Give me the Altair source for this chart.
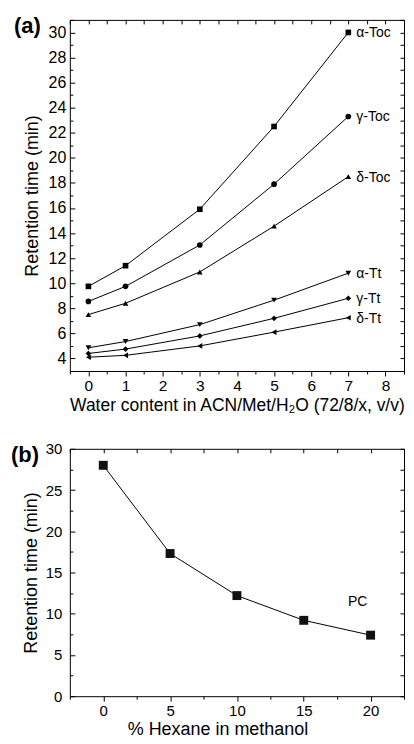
import altair as alt
import pandas as pd

FONT = "Liberation Sans"

# ---------------- Panel (a) data ----------------
water = [0, 1, 3, 5, 7]
series_names = ["α-Toc", "γ-Toc", "δ-Toc", "α-Tt", "γ-Tt", "δ-Tt"]
alpha_toc = [9.75, 11.4, 15.9, 22.5, 30.0]
gamma_toc = [8.55, 9.75, 13.05, 17.9, 23.3]
delta_toc = [7.5, 8.4, 10.9, 14.55, 18.5]
alpha_tt = [4.85, 5.35, 6.7, 8.65, 10.8]
gamma_tt = [4.4, 4.75, 5.8, 7.2, 8.8]
delta_tt = [4.1, 4.25, 5.0, 6.1, 7.25]
series_values = [alpha_toc, gamma_toc, delta_toc, alpha_tt, gamma_tt, delta_tt]
shapes = ["square", "circle", "triangle-up", "triangle-down", "diamond", "triangle-left"]

# ---------------- Panel (b) data ----------------
hexane = [0, 5, 10, 15, 20]
pc_time = [28.0, 17.3, 12.2, 9.2, 7.4]
pc_name = ["PC"]

panel_labels = ["(a)", "(b)"]

rows = []
for n, vals in zip(series_names, series_values):
    for x, v in zip(water, vals):
        rows.append({"x": x, "y": v, "s": n})
df_a = pd.DataFrame(rows)
last_a = df_a[df_a["x"] == water[-1]]

df_b = pd.DataFrame({"x": hexane, "y": pc_time, "s": pc_name * len(hexane)})
last_b = df_b[df_b["x"] == hexane[-1]]

WA, HA = 335, 352
WB, HB = 335, 248


def tick_axis(**kw):
    base = dict(labels=False, domain=False, grid=False, ticks=True,
                tickColor="black", tickWidth=1)
    base.update(kw)
    return alt.Axis(**base)


def ghost(df, xs, ys, xaxis, yaxis):
    if xaxis is not None:
        ex = alt.X("x:Q", scale=xs, axis=xaxis, title=None)
    else:
        ex = alt.X("x:Q", scale=xs, axis=None)
    if yaxis is not None:
        ey = alt.Y("y:Q", scale=ys, axis=yaxis, title=None)
    else:
        ey = alt.Y("y:Q", scale=ys, axis=None)
    return alt.Chart(df).mark_point(opacity=0, size=1).encode(x=ex, y=ey)


def frange(a, b, step):
    out = []
    v = a
    while v <= b + 1e-9:
        out.append(round(v, 4))
        v += step
    return out


# ---------------- Panel (a) ----------------
xa = alt.Scale(domain=[-0.5, 8.5], nice=False, zero=False)
ya = alt.Scale(domain=[3, 31], nice=False, zero=False)

xa_axis = alt.Axis(orient="bottom", values=list(range(0, 9)), format="d",
                   tickSize=5, labelFontSize=15.5, titleFontSize=17.5,
                   labelPadding=3, titlePadding=2, domain=False, grid=False,
                   titleFontWeight="normal", labelFont=FONT, titleFont=FONT,
                   labelColor="black", titleColor="black", tickColor="black")
ya_axis = alt.Axis(orient="left", values=list(range(4, 31, 2)), format="d",
                   ticks=False, labelFontSize=16, titleFontSize=18,
                   labelPadding=4, titlePadding=7, domain=False, grid=False,
                   titleFontWeight="normal", labelFont=FONT, titleFont=FONT,
                   labelColor="black", titleColor="black")

base_a = alt.Chart(df_a)
lines_a = base_a.mark_line(color="black", strokeWidth=1).encode(
    x=alt.X("x:Q", scale=xa, axis=xa_axis, title="Water content in ACN/Met/H₂O (72/8/x, v/v)"),
    y=alt.Y("y:Q", scale=ya, axis=ya_axis, title="Retention time (min)"),
    detail="s:N",
)
points_a = base_a.mark_point(filled=True, color="black", opacity=1, size=32).encode(
    x=alt.X("x:Q", scale=xa, axis=None),
    y=alt.Y("y:Q", scale=ya, axis=None),
    shape=alt.Shape("s:N", scale=alt.Scale(domain=series_names, range=shapes), legend=None),
)
labels_a = alt.Chart(last_a).mark_text(align="left", baseline="middle", dx=8, dy=1, fontSize=14,
                                       font=FONT, color="black").encode(
    x=alt.X("x:Q", scale=xa, axis=None),
    y=alt.Y("y:Q", scale=ya, axis=None),
    text="s:N",
)
tag_a = alt.Chart(pd.DataFrame({"t": [panel_labels[0]]})).mark_text(
    align="left", baseline="top", fontSize=22, fontWeight="bold", font=FONT, color="black"
).encode(x=alt.value(-56), y=alt.value(-4), text="t:N")

g1a = ghost(df_a, xa, ya,
            tick_axis(orient="bottom", values=frange(-0.5, 8.5, 1.0), tickSize=3),
            tick_axis(orient="right", offset=-WA, values=list(range(4, 31, 2)), tickSize=5))
g2a = ghost(df_a, xa, ya,
            tick_axis(orient="bottom", offset=-HA, values=frange(-0.5, 8.5, 0.5), tickSize=4),
            tick_axis(orient="left", offset=-WA, values=list(range(3, 32, 1)), tickSize=4))
g3a = ghost(df_a, xa, ya, None,
            tick_axis(orient="right", offset=-WA, values=list(range(3, 32, 2)), tickSize=3))

panel_a = alt.layer(lines_a, g1a, g2a, g3a, points_a, labels_a, tag_a).resolve_axis(
    x="independent", y="independent").properties(width=WA, height=HA)

# ---------------- Panel (b) ----------------
xb = alt.Scale(domain=[-2.5, 22.5], nice=False, zero=False)
yb = alt.Scale(domain=[0, 30], nice=False, zero=False)

xb_axis = alt.Axis(orient="bottom", values=[0, 5, 10, 15, 20], format="d",
                   tickSize=5, labelFontSize=15, titleFontSize=18,
                   labelPadding=2, titlePadding=2, domain=False, grid=False,
                   titleFontWeight="normal", titleX=148, labelFont=FONT, titleFont=FONT,
                   labelColor="black", titleColor="black", tickColor="black")
yb_axis = alt.Axis(orient="left", values=[0, 5, 10, 15, 20, 25, 30], format="d",
                   ticks=False, labelFontSize=15, titleFontSize=18,
                   labelPadding=8, titlePadding=5, domain=False, grid=False,
                   titleFontWeight="normal", labelFont=FONT, titleFont=FONT,
                   labelColor="black", titleColor="black")

base_b = alt.Chart(df_b)
lines_b = base_b.mark_line(color="black", strokeWidth=1).encode(
    x=alt.X("x:Q", scale=xb, axis=xb_axis, title="% Hexane in methanol"),
    y=alt.Y("y:Q", scale=yb, axis=yb_axis, title="Retention time (min)"),
)
points_b = base_b.mark_point(filled=True, shape="square", color="#111111", opacity=1, size=80).encode(
    x=alt.X("x:Q", scale=xb, axis=None),
    y=alt.Y("y:Q", scale=yb, axis=None),
)
labels_b = alt.Chart(last_b).mark_text(align="center", baseline="middle", dx=-13, dy=-33,
                                       fontSize=14, font=FONT, color="black").encode(
    x=alt.X("x:Q", scale=xb, axis=None),
    y=alt.Y("y:Q", scale=yb, axis=None),
    text="s:N",
)
tag_b = alt.Chart(pd.DataFrame({"t": [panel_labels[1]]})).mark_text(
    align="left", baseline="top", fontSize=22, fontWeight="bold", font=FONT, color="black"
).encode(x=alt.value(-59), y=alt.value(-4), text="t:N")

g1b = ghost(df_b, xb, yb,
            tick_axis(orient="bottom", values=frange(-2.5, 22.5, 5.0), tickSize=3),
            tick_axis(orient="right", offset=-WB, values=[0, 5, 10, 15, 20, 25, 30], tickSize=5))
g2b = ghost(df_b, xb, yb,
            tick_axis(orient="bottom", offset=-HB, values=frange(-2.5, 22.5, 2.5), tickSize=4),
            tick_axis(orient="left", offset=-WB, values=frange(0, 30, 2.5), tickSize=4))
g3b = ghost(df_b, xb, yb, None,
            tick_axis(orient="right", offset=-WB, values=frange(2.5, 27.5, 5.0), tickSize=3))

panel_b = alt.layer(lines_b, g1b, g2b, g3b, points_b, labels_b, tag_b).resolve_axis(
    x="independent", y="independent").properties(width=WB, height=HB)

chart = alt.vconcat(panel_a, panel_b, spacing=78, bounds="flush").properties(
    padding={"left": 2, "top": 5, "right": 0, "bottom": 0},
    background="white",
).configure_view(stroke="black", strokeWidth=1).configure_axis(
    labelFont=FONT, titleFont=FONT, labelColor="black", titleColor="black",
    tickColor="black"
)

chart.save("out.html", embed_options={"renderer": "svg", "actions": False})
